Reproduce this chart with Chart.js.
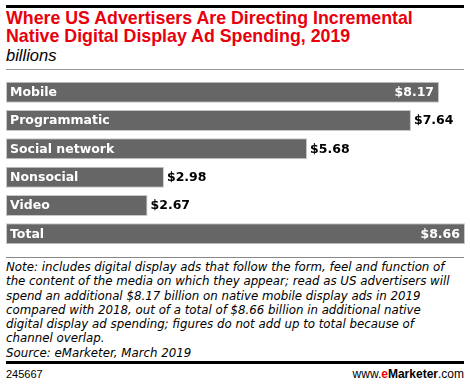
<!DOCTYPE html>
<html>
<head>
<meta charset="utf-8">
<script src="https://cdn.jsdelivr.net/npm/chart.js@4.4.0/dist/chart.umd.min.js"></script>
<style>
  body { margin: 0; width: 470px; height: 385px; background: #fff; position: relative; font-family: "Liberation Sans", Arial, sans-serif; overflow: hidden; }
  #topline { position: absolute; left: 6px; top: 5px; width: 458px; height: 3px; background: #000; }
  #title { position: absolute; left: 6px; top: 10px; color: #e8000d; font-weight: bold; font-size: 17.8px; line-height: 17.5px; white-space: nowrap; }
  #unit { position: absolute; left: 6px; top: 47px; font-style: italic; font-size: 16.5px; line-height: 17px; color: #000; }
  #subline { position: absolute; left: 6px; top: 69px; width: 458px; height: 1px; background: #999; }
  #chartbox { position: absolute; left: 0; top: 78px; width: 470px; height: 170px; }
  #noteline { position: absolute; left: 6px; top: 257px; width: 458px; height: 1px; background: #888; }
  #note { position: absolute; left: 6px; top: 260px; white-space: nowrap; font-family: "DejaVu Sans", Verdana, sans-serif; font-style: italic; font-size: 11.8px; line-height: 14.3px; color: #000; }
  #botline { position: absolute; left: 6px; top: 361px; width: 458px; height: 3px; background: #000; }
  #id { position: absolute; left: 6px; top: 368px; font-size: 11px; color: #000; }
  #logo { position: absolute; right: 6px; top: 367px; font-size: 12px; color: #000; }
  #logo b { font-weight: bold; }
  #logo .e { color: #e8000d; }
</style>
</head>
<body>
<div id="topline"></div>
<div id="title">Where US Advertisers Are Directing Incremental<br>Native Digital Display Ad Spending, 2019</div>
<div id="unit">billions</div>
<div id="subline"></div>
<div id="chartbox"><canvas id="chart" width="470" height="170"></canvas></div>
<div id="noteline"></div>
<div id="note">Note: includes digital display ads that follow the form, feel and function of<br>the content of the media on which they appear; read as US advertisers will<br>spend an additional $8.17 billion on native mobile display ads in 2019<br>compared with 2018, out of a total of $8.66 billion in additional native<br>digital display ad spending; figures do not add up to total because of<br>channel overlap.<br>Source: eMarketer, March 2019</div>
<div id="botline"></div>
<div id="id">245667</div>
<div id="logo">www.<b class="e">e</b><b>Marketer</b>.com</div>
<script>
let categories = ['Mobile', 'Programmatic', 'Social network', 'Nonsocial', 'Video', 'Total'];
let spending = [8.17, 7.64, 5.68, 2.98, 2.67, 8.66];
let valueLabels = ['$8.17', '$7.64', '$5.68', '$2.98', '$2.67', '$8.66'];
let insideValue = [true, false, false, false, false, true];

// bar labels drawn on top of the bars
let barLabels = {
    id: 'barLabels',
    afterDatasetsDraw(chart) {
        let ctx = chart.ctx;
        let meta = chart.getDatasetMeta(0);
        ctx.save();
        ctx.font = 'bold 12.5px "DejaVu Sans", Verdana, sans-serif';
        ctx.textBaseline = 'middle';
        meta.data.forEach((bar, i) => {
            let y = bar.y + 0.5;
            ctx.fillStyle = '#fff';
            ctx.textAlign = 'left';
            ctx.fillText(categories[i], bar.base + 4, y);
            if (insideValue[i]) {
                ctx.textAlign = 'right';
                ctx.fillText(valueLabels[i], bar.x - 5, y);
            } else {
                ctx.fillStyle = '#000';
                ctx.textAlign = 'left';
                ctx.fillText(valueLabels[i], bar.x + 3, y);
            }
        });
        ctx.restore();
    }
};

let chart = new Chart(document.getElementById('chart').getContext('2d'), {
    type: 'bar',
    data: {
        labels: categories,
        datasets: [{
            data: spending,
            backgroundColor: '#666666',
            borderColor: '#c8c8c8',
            borderWidth: 1,
            borderSkipped: false,
            barPercentage: 0.74,
            categoryPercentage: 1
        }]
    },
    options: {
        indexAxis: 'y',
        responsive: false,
        animation: false,
        layout: { padding: { left: 6, right: 5, top: 0, bottom: 0 } },
        scales: {
            x: { display: false, min: 0, max: 8.66 },
            y: { display: false }
        },
        plugins: {
            legend: { display: false },
            tooltip: { enabled: false }
        }
    },
    plugins: [barLabels]
});
</script>
</body>
</html>
